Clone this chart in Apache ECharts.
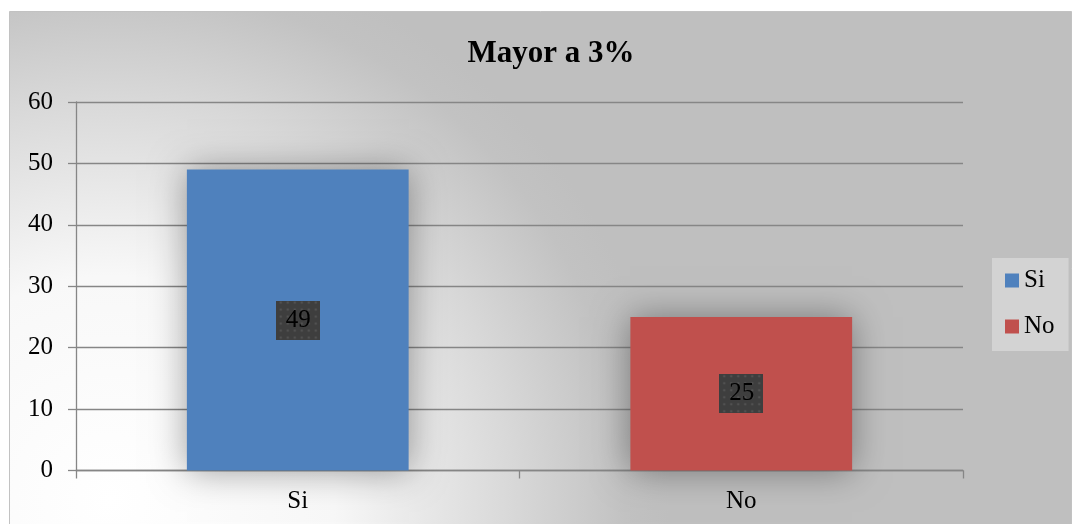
<!DOCTYPE html>
<html>
<head>
<meta charset="utf-8">
<script src="https://cdn.jsdelivr.net/npm/echarts@6/dist/echarts.min.js"></script>
<style>
html,body{margin:0;padding:0;background:#fff;}
#chart{width:1072px;height:524px;}
</style>
</head>
<body>
<div id="chart"></div>
<script>
const titleText = 'Mayor a 3%';
const categories = ['Si', 'No'];
const seriesNames = ['Si', 'No'];
const seriesValues = [49, 25];
const seriesColors = ['#4F81BD', '#C0504D'];
const yTicks = [0, 10, 20, 30, 40, 50, 60];

const FONT = '"Liberation Serif", "Times New Roman", serif';

// dotted texture for data label boxes
const tex = document.createElement('canvas');
tex.width = 44; tex.height = 39;
(function(){
  const c = tex.getContext('2d');
  c.fillStyle = '#3E3E3E';
  c.fillRect(0, 0, tex.width, tex.height);
  c.fillStyle = 'rgba(255,255,255,0.10)';
  for (let y = 2; y < tex.height; y += 7) {
    for (let x = 2; x < tex.width; x += 7) {
      c.beginPath(); c.arc(x + ((y/7)%2 ? 3 : 0), y, 1.3, 0, Math.PI*2); c.fill();
    }
  }
})();

const chart = echarts.init(document.getElementById('chart'), null, {renderer: 'canvas'});

const series = seriesNames.map((name, i) => ({
  name: name,
  type: 'bar',
  stack: 'all',
  barWidth: '50%',
  data: categories.map((c, j) => j === i ? seriesValues[i] : null),
  itemStyle: {
    color: seriesColors[i],
    shadowBlur: 34,
    shadowColor: 'rgba(0,0,0,0.38)'
  },
  label: {
    show: true,
    position: 'inside',
    color: '#000',
    fontFamily: FONT,
    fontSize: 25,
    lineHeight: 25,
    padding: [7, 9, 7, 10],
    backgroundColor: {image: tex},
    shadowBlur: 7,
    shadowOffsetX: 4,
    shadowOffsetY: 5,
    shadowColor: 'rgba(0,0,0,0.55)'
  }
}));

chart.setOption({
  animation: false,
  backgroundColor: '#ffffff',
  graphic: [{
    type: 'rect',
    z: -10,
    silent: true,
    shape: {x: 9.5, y: 11.5, width: 1062, height: 514},
    style: {
      fill: {
        type: 'radial', x: 110, y: 500, r: 560, global: true,
        colorStops: [
          {offset: 0, color: '#FFFFFF'},
          {offset: 0.4, color: '#F8F8F8'},
          {offset: 0.72, color: '#D8D8D8'},
          {offset: 0.92, color: '#C2C2C2'},
          {offset: 1, color: '#BFBFBF'}
        ]
      },
      stroke: '#C2C2C2',
      lineWidth: 1
    }
  }],
  title: {
    text: titleText,
    left: 546,
    top: 33,
    textAlign: 'center',
    textStyle: {fontFamily: FONT, fontSize: 31, fontWeight: 'bold', color: '#000'}
  },
  legend: {
    orient: 'vertical',
    left: 992,
    top: 258,
    data: seriesNames,
    backgroundColor: '#D3D3D3',
    padding: [10, 14, 12, 13],
    itemWidth: 14,
    itemHeight: 14,
    itemGap: 21,
    itemTextGap: 7,
    icon: 'rect',
    textStyle: {fontFamily: FONT, fontSize: 25, lineHeight: 25, color: '#000'}
  },
  grid: {left: 76, right: 109, top: 102, bottom: 53.5, containLabel: false},
  xAxis: {
    type: 'category',
    data: categories,
    boundaryGap: true,
    axisLine: {lineStyle: {color: '#868686', width: 1.3}},
    axisTick: {show: true, length: 8, lineStyle: {color: '#868686', width: 1.3}},
    axisLabel: {fontFamily: FONT, fontSize: 25, color: '#000', margin: 18}
  },
  yAxis: {
    type: 'value',
    min: yTicks[0],
    max: yTicks[yTicks.length - 1],
    interval: 10,
    axisLine: {show: true, lineStyle: {color: '#868686', width: 1.3}},
    axisTick: {show: true, length: 8, lineStyle: {color: '#868686', width: 1.3}},
    axisLabel: {fontFamily: FONT, fontSize: 25, color: '#000', margin: 23},
    splitLine: {show: true, lineStyle: {color: '#868686', width: 1.3}}
  },
  series: series
});
</script>
</body>
</html>
